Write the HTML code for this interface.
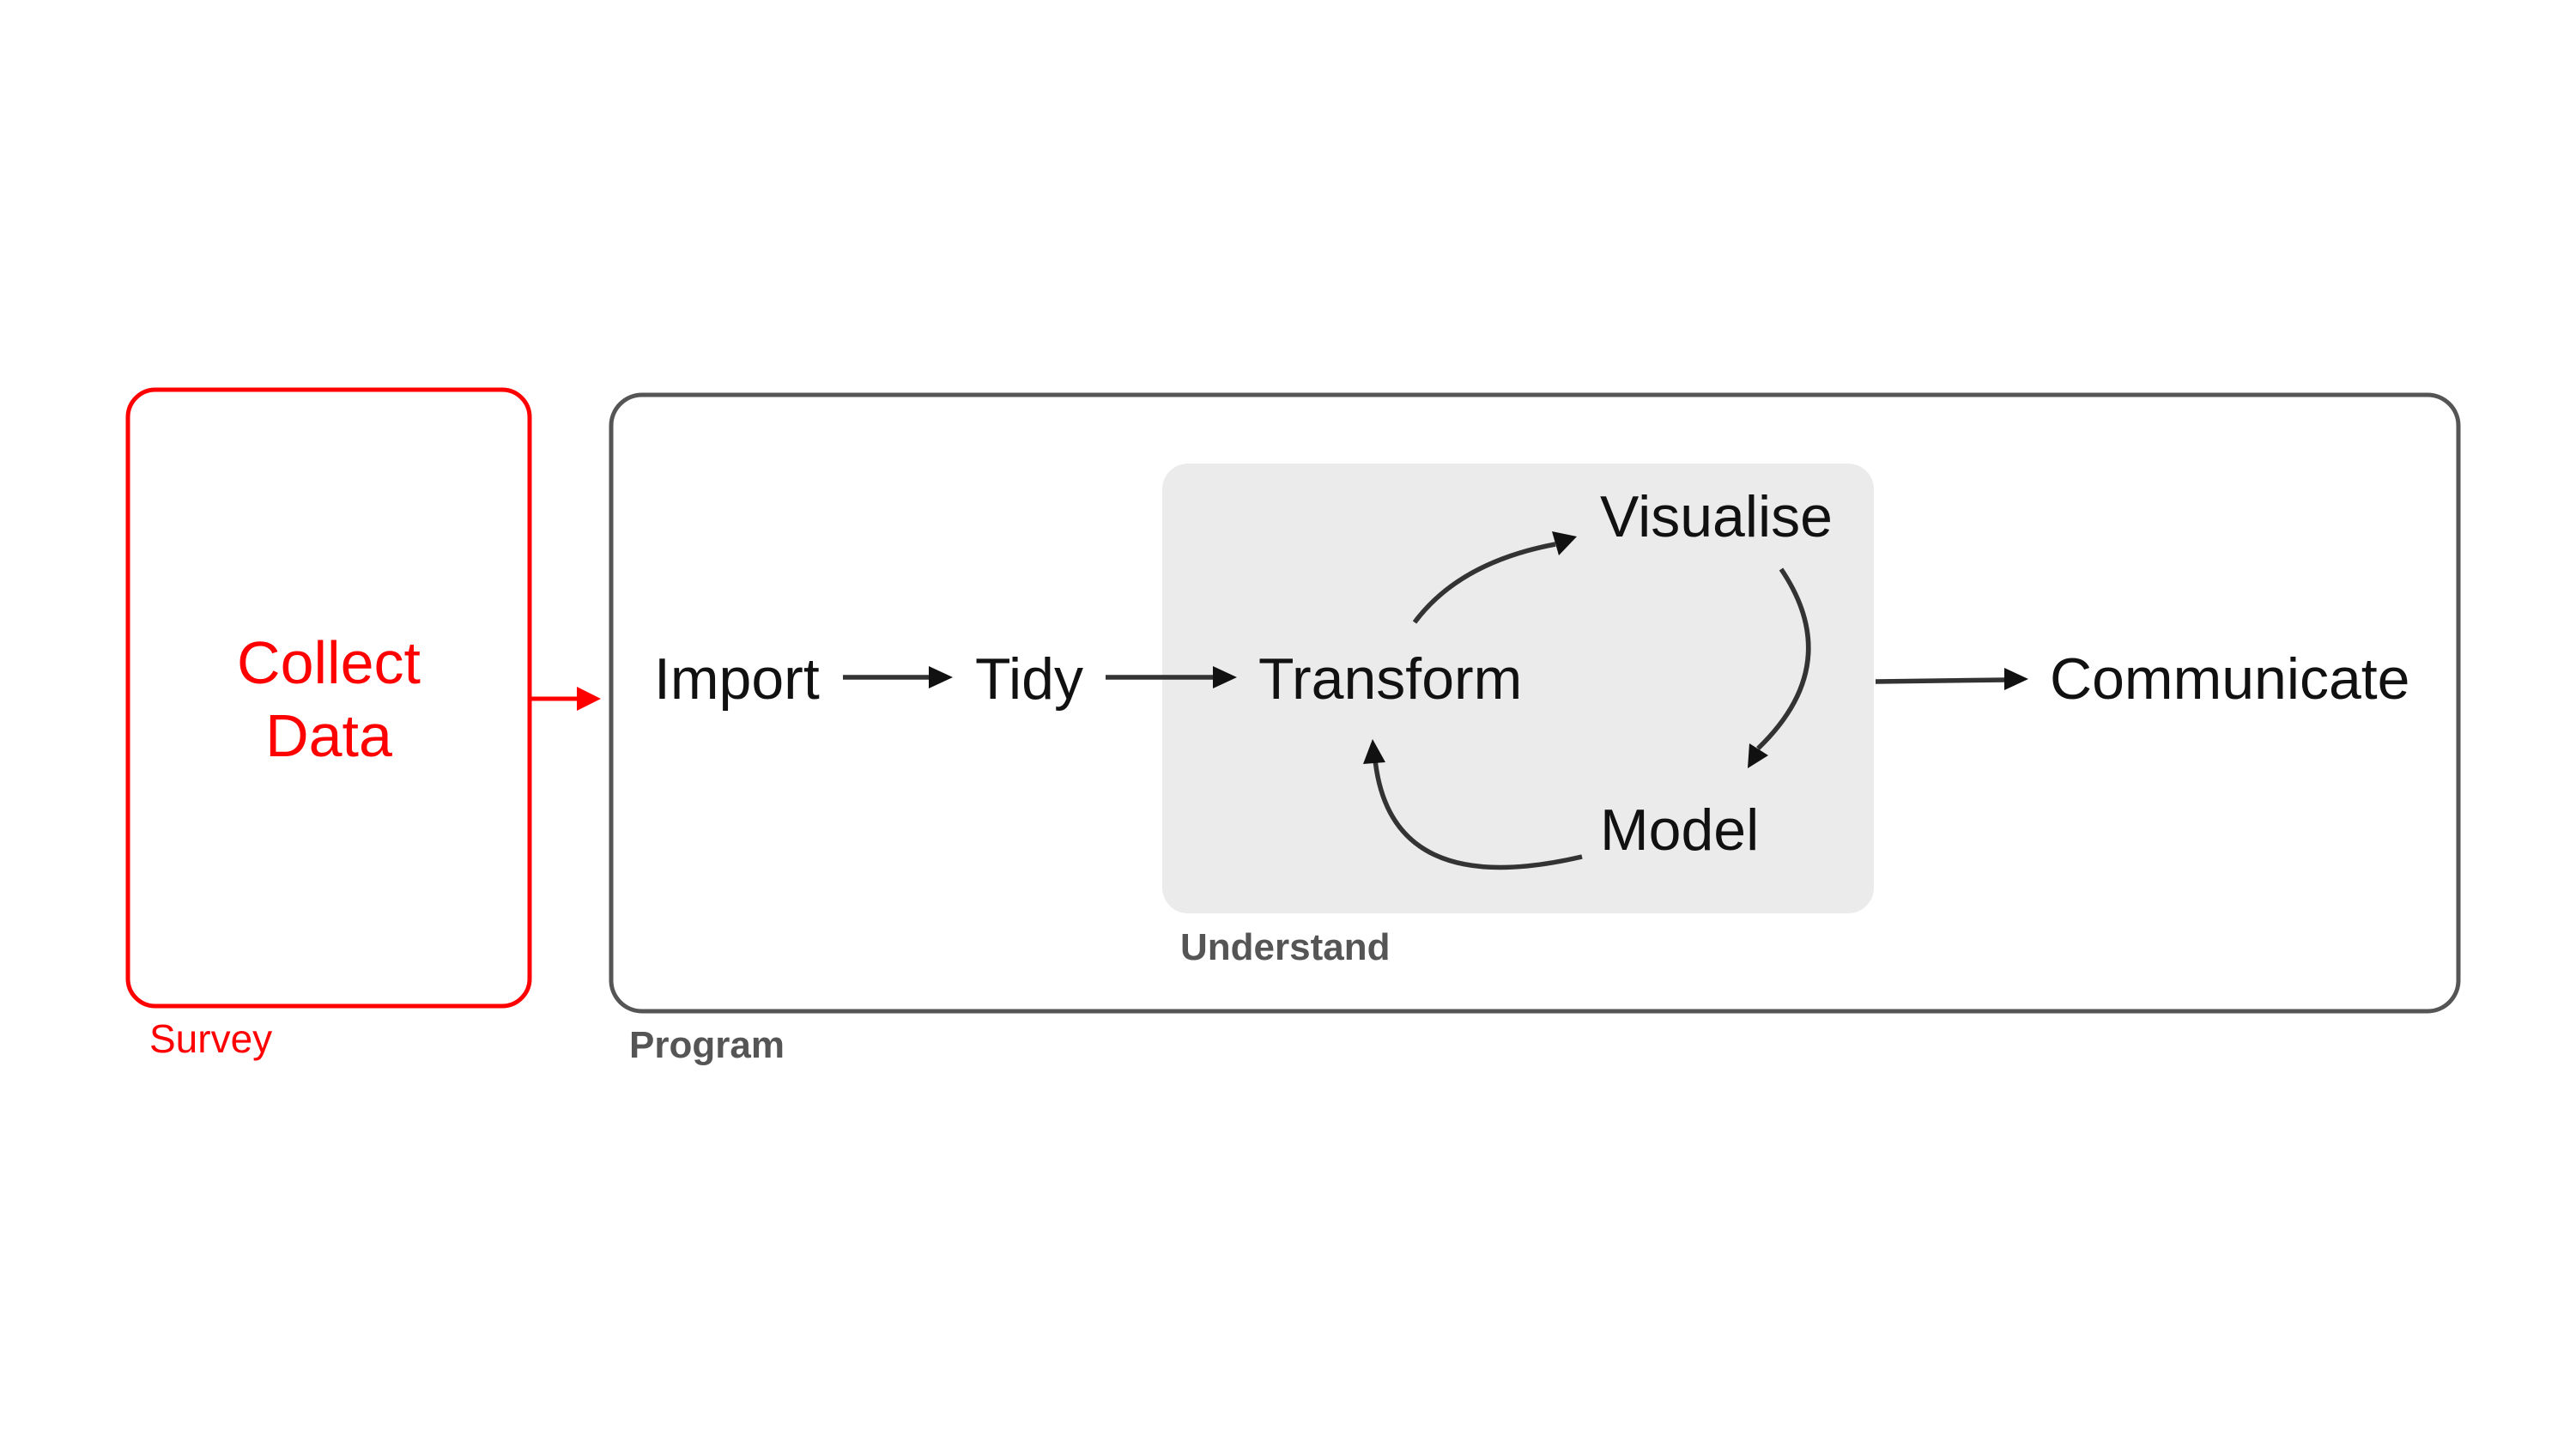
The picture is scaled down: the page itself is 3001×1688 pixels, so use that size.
<!DOCTYPE html>
<html><head><meta charset="utf-8"><style>
html,body{margin:0;padding:0;background:#fff;}
svg{display:block;}
text{font-family:"Liberation Sans",Arial,sans-serif;}
</style></head><body>
<svg width="3001" height="1688" viewBox="0 0 3001 1688" xmlns="http://www.w3.org/2000/svg">
<rect x="0" y="0" width="3001" height="1688" fill="#fff"/>
<!-- Survey box -->
<rect x="149" y="454" width="468" height="718" rx="32" fill="none" stroke="#ff0000" stroke-width="5"/>
<text x="383" y="796" font-size="70" fill="#ff0000" text-anchor="middle">Collect</text>
<text x="383" y="881" font-size="70" fill="#ff0000" text-anchor="middle">Data</text>
<text x="174" y="1226" font-size="46" fill="#ff0000">Survey</text>
<line x1="617" y1="814" x2="675" y2="814" stroke="#ff0000" stroke-width="5"/>
<polygon points="700,814 672,800 672,828" fill="#ff0000"/>
<!-- Program box -->
<rect x="712" y="460" width="2152" height="718" rx="36" fill="none" stroke="#555" stroke-width="5"/>
<text x="733" y="1232" font-size="44" font-weight="bold" fill="#555">Program</text>
<!-- Understand -->
<rect x="1354" y="540" width="829" height="524" rx="30" fill="#ebebeb"/>
<text x="1375" y="1118" font-size="44" font-weight="bold" fill="#555">Understand</text>
<!-- labels -->
<g font-size="68" fill="#111">
<text x="762" y="814">Import</text>
<text x="1136" y="814">Tidy</text>
<text x="1466" y="814">Transform</text>
<text x="2388" y="814">Communicate</text>
<text x="1864" y="625">Visualise</text>
<text x="1864" y="990">Model</text>
</g>
<!-- straight arrows -->
<g stroke="#333" stroke-width="5.5" fill="none">
<line x1="982" y1="789" x2="1085" y2="789"/>
<line x1="1288" y1="789" x2="1416" y2="789"/>
<line x1="2185" y1="794" x2="2338" y2="792"/>
<path d="M1648,725 Q1700,655 1812,634"/>
<path d="M2075,663 Q2150,774 2048,872"/>
<path d="M1843,998 Q1620,1050 1602,885"/>
</g>
<g fill="#111">
<polygon points="1110,789 1082,776 1082,802"/>
<polygon points="1441,789 1413,776 1413,802"/>
<polygon points="2363,791 2335,778 2335,804"/>
<polygon points="1837,625 1808,619 1816,647"/>
<polygon points="2036,895 2038,866 2060,880"/>
<polygon points="1599,861 1588,890 1614,888"/>
</g>
</svg>
</body></html>
